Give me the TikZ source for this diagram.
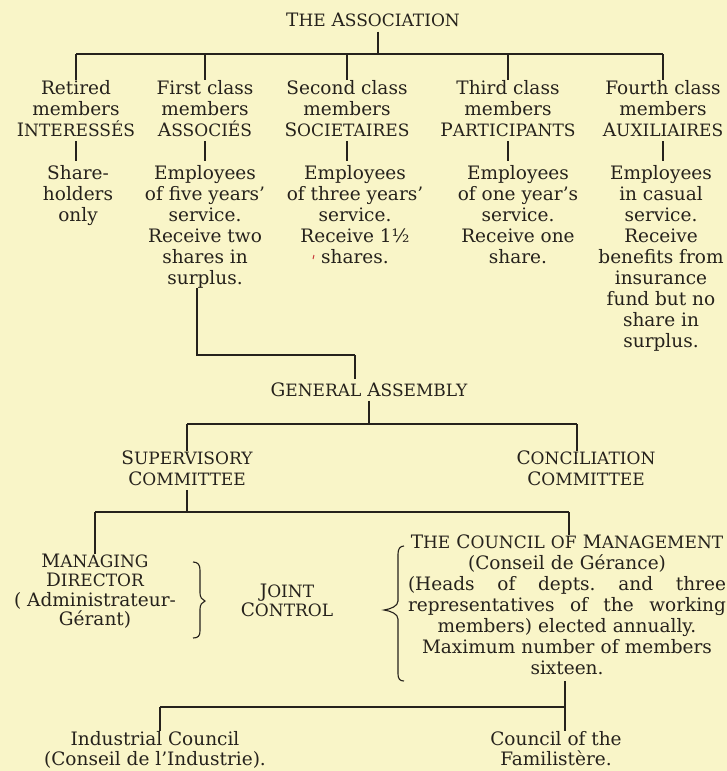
\documentclass[tikz,border=0pt]{standalone}
\usepackage{fontspec}
\setmainfont{DejaVu Serif}
\usetikzlibrary{calc}
\definecolor{paper}{RGB}{249,245,200}
\definecolor{ink}{RGB}{38,34,28}
\newcommand\smc[1]{{\fontsize{17pt}{21pt}\selectfont #1}}
\newcommand\spreadline[1]{\leavevmode\hbox to 318pt{#1}}
\begin{document}
\begin{tikzpicture}[x=1pt,y=-1pt,
  font=\fontsize{18.5pt}{21pt}\selectfont,
  every node/.style={inner sep=0pt, outer sep=0pt, text=ink, align=center},
  lbl/.style={anchor=north},
  ln/.style={draw=ink, line width=1.2pt},
  barline/.style={draw=ink, line width=1.6pt},
  bracestroke/.style={draw=ink, line width=1.1pt}]
\fill[paper] (0,0) rectangle (727,771);
\useasboundingbox (0,0) rectangle (727,771);

% coordinates of horizontal bars
\coordinate (y1) at (0,54);
\coordinate (m1) at (355,355);
\coordinate (y3) at (0,424);
\coordinate (y4) at (0,512);
\coordinate (y5) at (0,707);

% nodes
\node[lbl] (title) at (373,13) {T\smc{HE} A\smc{SSOCIATION}};

\node[lbl] (h1) at (76,80) {Retired\\members\\I\smc{NTERESSÉS}};
\node[lbl] (h2) at (205,80) {First class\\members\\A\smc{SSOCIÉS}};
\node[lbl] (h3) at (347,80) {Second class\\members\\S\smc{OCIETAIRES}};
\node[lbl] (h4) at (508,80) {Third class\\members\\P\smc{ARTICIPANTS}};
\node[lbl] (h5) at (663,80) {Fourth class\\members\\A\smc{UXILIAIRES}};

\node[lbl] (l1) at (78,165) {Share-\\holders\\only};
\node[lbl] (l2) at (205,165) {Employees\\of five years’\\service.\\Receive two\\shares in\\surplus.};
\node[lbl] (l3) at (355,165) {Employees\\of three years’\\service.\\Receive 1½\\shares.};
\node[lbl] (l4) at (518,165) {Employees\\of one year’s\\service.\\Receive one\\share.};
\node[lbl] (l5) at (661,165) {Employees\\in casual\\service.\\Receive\\benefits from\\insurance\\fund but no\\share in\\surplus.};

\node[lbl] (ga) at (369,383) {G\smc{ENERAL} A\smc{SSEMBLY}};

\node[lbl] (sup) at (187,451) {S\smc{UPERVISORY}\\C\smc{OMMITTEE}};
\node[lbl] (con) at (586,451) {C\smc{ONCILIATION}\\C\smc{OMMITTEE}};

\node[lbl, font=\fontsize{18.5pt}{19.5pt}\selectfont] (man) at (95,554)
  {M\smc{ANAGING}\\D\smc{IRECTOR}\\( Administrateur-\\Gérant)};
\node[lbl, font=\fontsize{18.5pt}{19.5pt}\selectfont] (joint) at (287,584)
  {J\smc{OINT}\\C\smc{ONTROL}};
\node[lbl, text width=318pt] (cm) at (567,535)
  {T\smc{HE} C\smc{OUNCIL OF} M\smc{ANAGEMENT}\\
   (Conseil de Gérance)\\
   \spreadline{(Heads\hfill of\hfill depts.\hfill and\hfill three}\\
   \spreadline{representatives\hfill of\hfill the\hfill working}\\
   members) elected annually.\\
   Maximum number of members\\
   sixteen.};

\node[lbl, font=\fontsize{18.5pt}{20pt}\selectfont] (ind) at (155,731) {Industrial Council\\(Conseil de l’Industrie).};
\node[lbl, font=\fontsize{18.5pt}{20pt}\selectfont] (fam) at (556,731) {Council of the\\Familistère.};

% top tree
\draw[ln, shorten <=5pt] ([xshift=5pt]title.south) -- ([xshift=5pt]title.south |- y1);
\draw[barline] (h1.north |- y1) -- (h5.north |- y1);
\foreach \n in {h1,h2,h3,h4,h5}
  \draw[ln] (\n.north |- y1) -- (\n.north);
\foreach \a/\b in {h1/l1,h2/l2,h3/l3,h4/l4,h5/l5}
  \draw[ln, shorten <=5pt, shorten >=4pt] (\a.south) -- (\a.south |- \b.north);

% first class to general assembly
\draw[ln] ([xshift=-8pt]l2.south) |- (m1);
\draw[draw=ink, line width=2.2pt, shorten >=4pt] (m1) -- (m1 |- ga.north);

% general assembly tree
\draw[ln, shorten <=4pt] (ga.south) -- (ga.south |- y3);
\draw[barline] (sup.north |- y3) -- ([xshift=-9pt]con.north |- y3);
\draw[ln] (sup.north |- y3) -- (sup.north);
\draw[ln] ([xshift=-9pt]con.north |- y3) -- ([xshift=-9pt]con.north);

% supervisory tree
\draw[ln, shorten <=4pt] (sup.south) -- (sup.south |- y4);
\draw[barline] (man.north |- y4) -- ([xshift=2pt]cm.north |- y4);
\draw[ln] (man.north |- y4) -- (man.north);
\draw[ln] ([xshift=2pt]cm.north |- y4) -- ([xshift=2pt]cm.north);

% council tree
\draw[ln, shorten <=6pt] ([xshift=-2pt]cm.south) -- ([xshift=-2pt]cm.south |- y5);
\draw[barline] ([xshift=5pt]ind.north |- y5) -- ([xshift=-2pt]cm.south |- y5);
\draw[ln] ([xshift=5pt]ind.north |- y5) -- ([xshift=5pt]ind.north);
\draw[ln] ([xshift=-2pt]cm.south |- y5) -- ([xshift=-2pt]cm.south |- fam.north);

% braces
\draw[bracestroke] (193,562) .. controls (198,562) and (200,565) .. (200,570)
  -- (200,593) .. controls (200,597) and (202,600) .. (205,601)
  .. controls (202,602) and (200,605) .. (200,609)
  -- (200,631) .. controls (200,636) and (198,638) .. (193,638);
\draw[bracestroke] (404,546) .. controls (400,546) and (398,549) .. (398,554)
  -- (398,601) .. controls (398,606) and (391,609) .. (384,610)
  .. controls (391,611) and (398,614) .. (398,619)
  -- (398,674) .. controls (398,679) and (400,681) .. (404,681);

% stray red mark
\draw[draw={rgb,255:red,200;green,60;blue,60}, line width=1pt] (314,255) -- (313,259);
\end{tikzpicture}
\end{document}
